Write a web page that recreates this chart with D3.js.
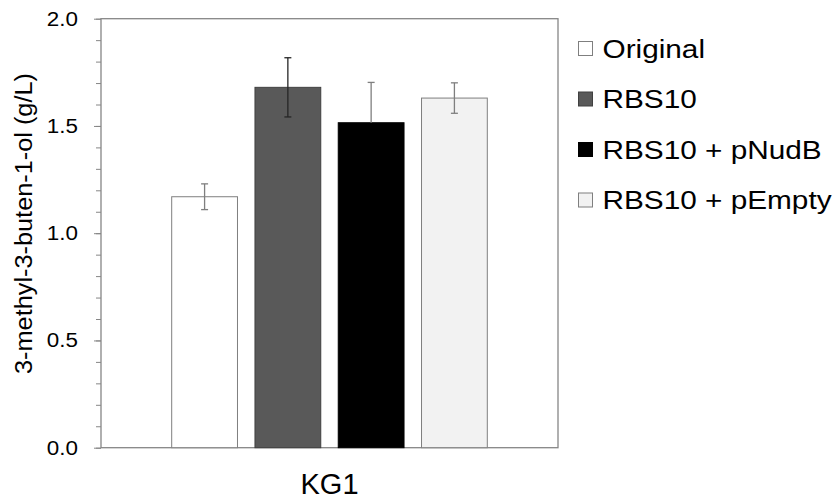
<!DOCTYPE html>
<html>
<head>
<meta charset="utf-8">
<script src="https://cdn.jsdelivr.net/npm/d3@7"></script>
<style>
  body { margin: 0; background: #fff; }
  svg { font-family: "Liberation Sans", Arial, sans-serif; }
</style>
</head>
<body>
<svg id="chart" width="836" height="499"></svg>
<script>
// data
const groups = ["KG1"];
const seriesNames = ["Original", "RBS10", "RBS10 + pNudB", "RBS10 + pEmpty"];
const values = [1.17, 1.68, 1.515, 1.63];
const errors = [0.06, 0.138, 0.188, 0.071];
const lowerWhisker = [true, true, false, true];
const fills = ["#ffffff", "#595959", "#000000", "#f2f2f2"];
const strokes = ["#7f7f7f", "#404040", "#000000", "#7f7f7f"];
const errColors = ["#7f7f7f", "#262626", "#7f7f7f", "#7f7f7f"];
const majorTicks = [0, 0.5, 1.0, 1.5, 2.0];

const svg = d3.select("#chart");
const margin = { top: 18.7, left: 101, right: 278, bottom: 51.3 };
const width = +svg.attr("width") - margin.left - margin.right;
const height = +svg.attr("height") - margin.top - margin.bottom;
const g = svg.append("g").attr("transform", `translate(${margin.left},${margin.top})`);

// the original text is set a bit wider than Arial, stretch it
function stretch(sel, k) {
    sel.each(function () {
        const len = this.getComputedTextLength();
        d3.select(this).attr("textLength", len * k).attr("lengthAdjust", "spacingAndGlyphs");
    });
}

const y = d3.scaleLinear().domain([0, 2]).range([height, 0]);
const x0 = d3.scaleBand().domain(groups).range([0, width]).paddingInner(0).paddingOuter(0.186);
const x1 = d3.scaleBand().domain(seriesNames).range([0, x0.bandwidth()]).paddingInner(0.21).paddingOuter(0.105);

// minor ticks
g.append("g")
    .call(d3.axisLeft(y).ticks(20).tickSize(5).tickFormat(""))
    .call(s => s.select(".domain").remove())
    .selectAll("line").attr("stroke", "#868686");

// major ticks + labels
const yAxis = g.append("g")
    .call(d3.axisLeft(y).tickValues(majorTicks).tickSize(7).tickPadding(16).tickFormat(d3.format(".1f")));
yAxis.select(".domain").remove();
yAxis.selectAll("line").attr("stroke", "#868686");
yAxis.selectAll("text").style("font-size", "20px").attr("fill", "#000").call(stretch, 1.12);

// frame
g.append("rect")
    .attr("x", 0).attr("y", 0)
    .attr("width", width).attr("height", height)
    .attr("fill", "none")
    .attr("stroke", "#868686")
    .attr("stroke-width", 1.3);

// bars
const grp = g.selectAll(".grp")
    .data(groups)
    .enter().append("g")
    .attr("transform", d => `translate(${x0(d)},0)`);

seriesNames.forEach((name, i) => {
    grp.append("rect")
        .attr("x", x1(name))
        .attr("y", y(values[i]))
        .attr("width", x1.bandwidth())
        .attr("height", height - y(values[i]))
        .attr("fill", fills[i])
        .attr("stroke", strokes[i])
        .attr("stroke-width", 1);
});

// error bars
seriesNames.forEach((name, i) => {
    const cx = x1(name) + x1.bandwidth() / 2;
    const hi = y(values[i] + errors[i]);
    const lo = lowerWhisker[i] ? y(values[i] - errors[i]) : y(values[i]);
    const eg = grp.append("g").attr("stroke", errColors[i]).attr("stroke-width", 1.3);
    eg.append("line").attr("x1", cx).attr("x2", cx).attr("y1", hi).attr("y2", lo);
    eg.append("line").attr("x1", cx - 3.5).attr("x2", cx + 3.5).attr("y1", hi).attr("y2", hi);
    if (lowerWhisker[i]) {
        eg.append("line").attr("x1", cx - 3.5).attr("x2", cx + 3.5).attr("y1", lo).attr("y2", lo);
    }
});

// x category label
g.selectAll(".xlab")
    .data(groups)
    .enter().append("text")
    .attr("x", d => x0(d) + x0.bandwidth() / 2)
    .attr("y", height + 46)
    .attr("text-anchor", "middle")
    .style("font-size", "29px")
    .text(d => d);

// y title
svg.append("text")
    .attr("transform", "translate(32, 223.5) rotate(-90)")
    .attr("text-anchor", "middle")
    .style("font-size", "23px")
    .text("3-methyl-3-buten-1-ol (g/L)")
    .call(stretch, 1.1);

// legend
const legend = svg.append("g").attr("transform", "translate(578, 48.5)");
seriesNames.forEach((name, i) => {
    const row = legend.append("g").attr("transform", `translate(0, ${i * 50.5})`);
    row.append("rect")
        .attr("x", 0.5).attr("y", -7)
        .attr("width", 14).attr("height", 14)
        .attr("fill", fills[i])
        .attr("stroke", strokes[i]);
    row.append("text")
        .attr("x", 24.5)
        .attr("y", 9)
        .style("font-size", "25px")
        .text(name)
        .call(stretch, 1.19);
});
</script>
</body>
</html>
